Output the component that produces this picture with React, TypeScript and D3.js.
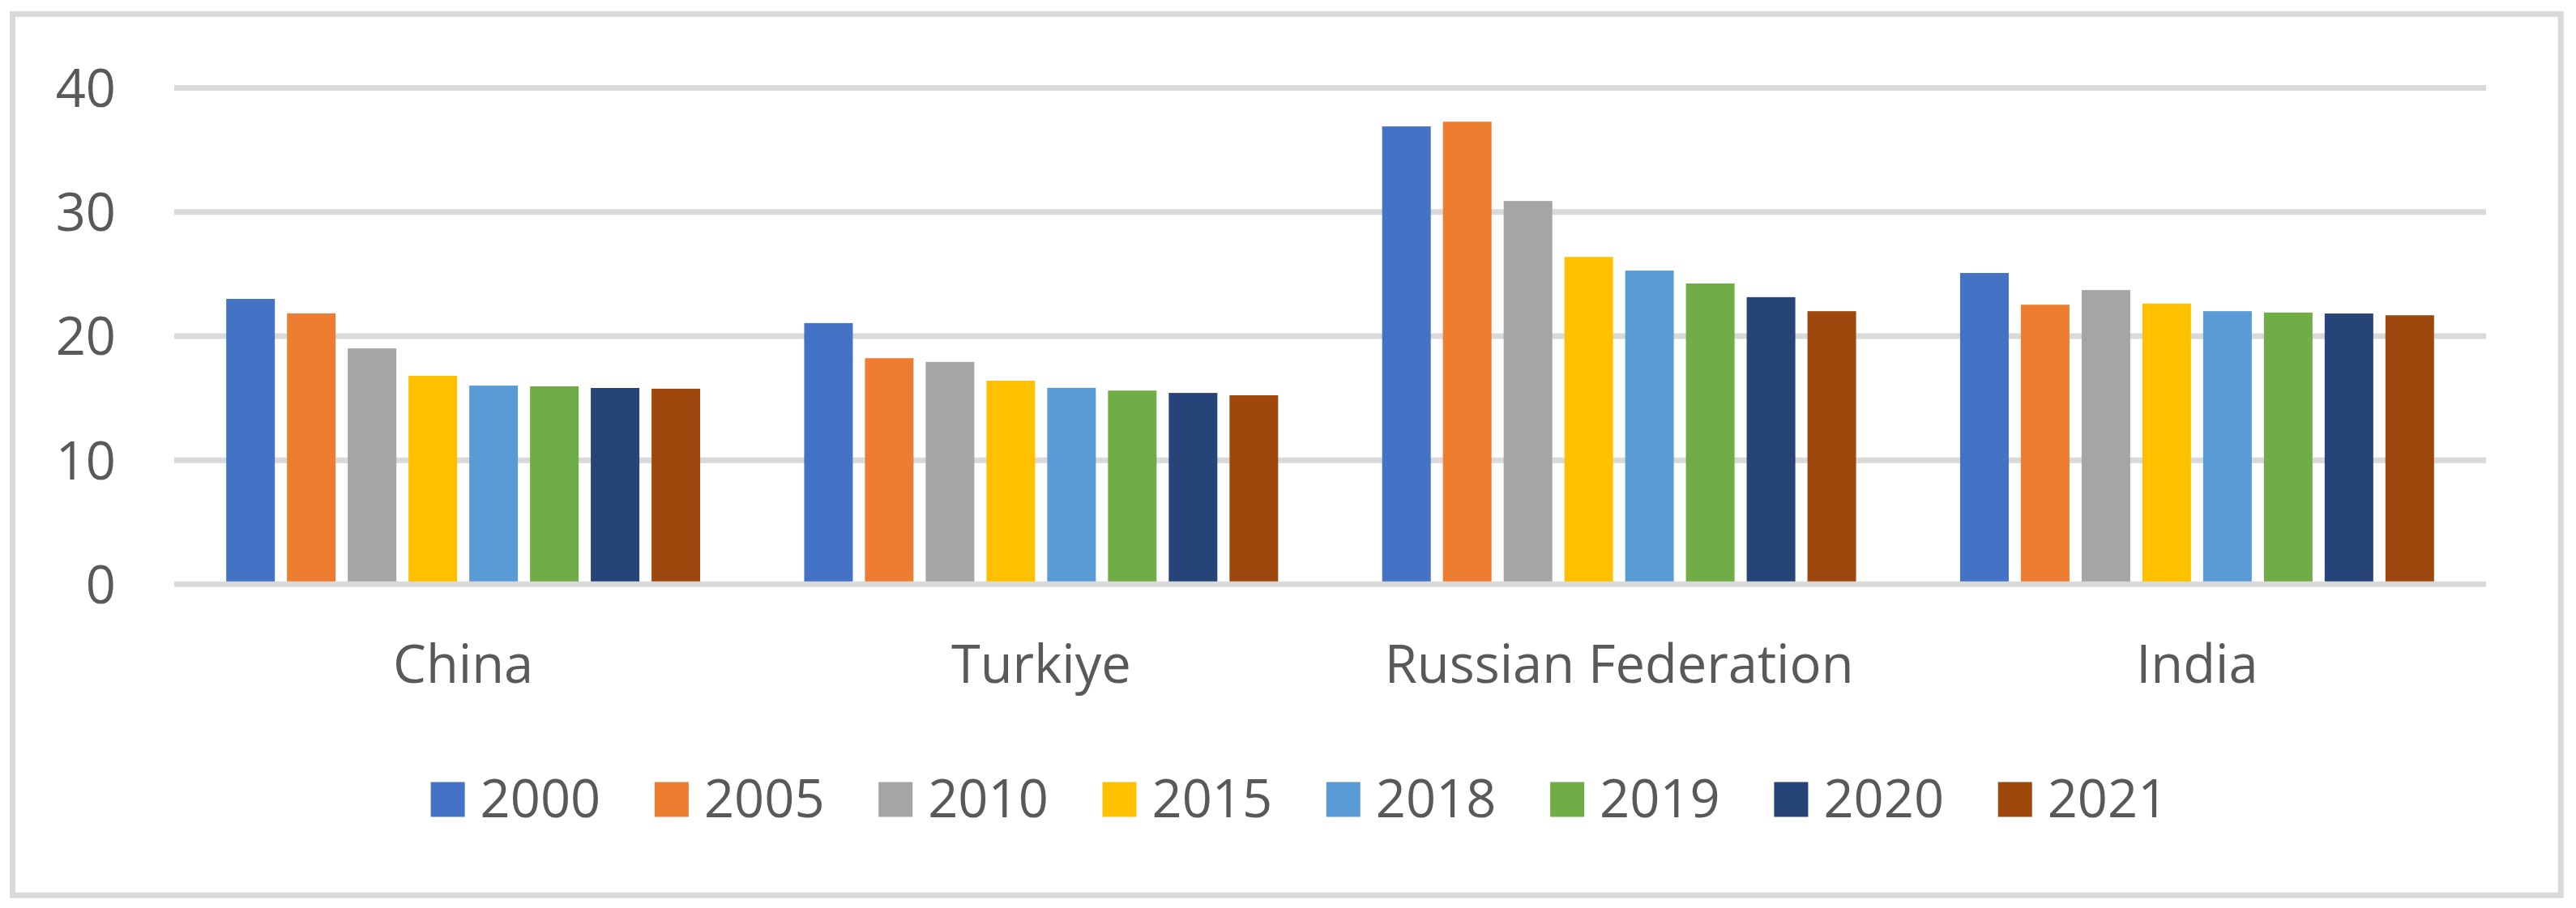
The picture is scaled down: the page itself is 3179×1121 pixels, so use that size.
import React from "react";
import * as d3 from "d3";

const categories = ["China", "Turkiye", "Russian Federation", "India"];
const years = ["2000", "2005", "2010", "2015", "2018", "2019", "2020", "2021"];
const colors = ["#4472C4", "#ED7D31", "#A5A5A5", "#FFC000", "#5B9BD5", "#70AD47", "#264478", "#9E480E"];

const chinaValues = [23.0, 21.83, 19.01, 16.8, 16.01, 15.95, 15.82, 15.76];
const turkiyeValues = [21.05, 18.22, 17.92, 16.41, 15.83, 15.61, 15.42, 15.23];
const russiaValues = [36.9, 37.28, 30.89, 26.38, 25.28, 24.24, 23.14, 22.01];
const indiaValues = [25.09, 22.53, 23.71, 22.62, 22.01, 21.9, 21.82, 21.68];
const seriesByCategory = [chinaValues, turkiyeValues, russiaValues, indiaValues];

const yTicks = [0, 10, 20, 30, 40];

const W = 3179;
const H = 1121;
const FONT = "'Open Sans', 'Noto Sans', sans-serif";
const TEXT = "#595959";
const GRID = "#D9D9D9";

export default function App() {
  const x0 = d3.scaleBand<string>().domain(categories).range([215, 3068]).paddingInner(0.18).paddingOuter(0.09);
  const x1 = d3.scaleBand<string>().domain(years).range([0, x0.bandwidth()]).paddingInner(0.2).paddingOuter(0);
  const y = d3.scaleLinear().domain([0, 40]).range([721.3, 108.6]);
  const plotLeft = 215;
  const plotRight = 3068;

  return (
    <svg width={W} height={H} style={{ position: "absolute", left: 0, top: 0, background: "#fff" }} fontFamily={FONT}>
      <rect x={0} y={0} width={W} height={H} fill="#fff" />
      <rect x={15.5} y={17.3} width={3160.2 - 15.5} height={1105.3 - 17.3} fill="none" stroke={GRID} strokeWidth={7} />
      {yTicks.filter((t) => t !== 0).map((t) => (
        <line key={t} x1={plotLeft} x2={plotRight} y1={y(t)} y2={y(t)} stroke={GRID} strokeWidth={7} />
      ))}
      {categories.map((c, ci) => (
        <g key={c} transform={`translate(${x0(c)},0)`}>
          {years.map((yr, yi) => {
            const v = seriesByCategory[ci][yi];
            return (
              <rect key={yr} x={x1(yr)} y={y(v)} width={x1.bandwidth()} height={y(0) - y(v)} fill={colors[yi]} />
            );
          })}
        </g>
      ))}
      <line x1={plotLeft} x2={plotRight} y1={y(0)} y2={y(0)} stroke={GRID} strokeWidth={7} />
      {yTicks.map((t) => (
        <text key={t} x={143} y={y(t)} dy="0.36em" textAnchor="end" fontSize={65} fill={TEXT}>
          {t}
        </text>
      ))}
      {categories.map((c) => (
        <text key={c} x={(x0(c) as number) + x0.bandwidth() / 2} y={843} textAnchor="middle" fontSize={65} fill={TEXT}>
          {c}
        </text>
      ))}
      {years.map((yr, i) => (
        <g key={yr} transform={`translate(${531.6 + i * 276.3},0)`}>
          <rect x={0} y={965.5} width={42} height={43} fill={colors[i]} />
          <text x={61} y={1009} fontSize={65} fill={TEXT}>
            {yr}
          </text>
        </g>
      ))}
    </svg>
  );
}
